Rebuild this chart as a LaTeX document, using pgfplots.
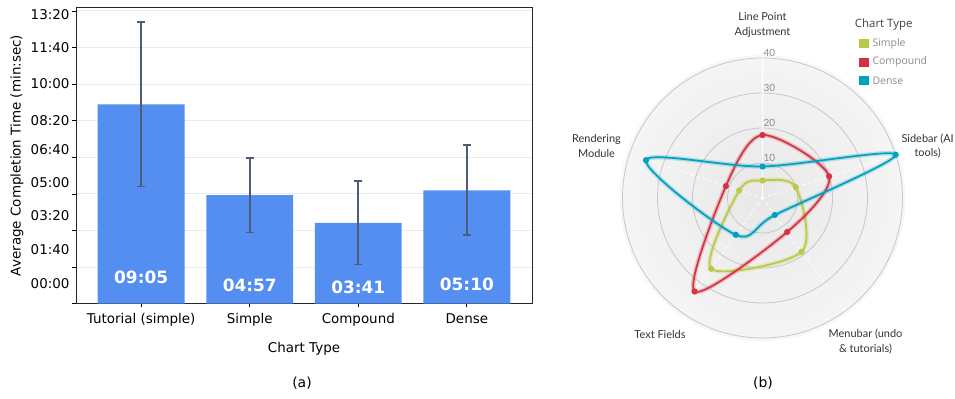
\documentclass[border=0pt]{standalone}
\usepackage{fontspec}
\setmainfont{DejaVu Sans}
\newfontfamily\lato{Lato}
\newfontfamily\osans{Open Sans}
\usepackage{pgfplots}
\pgfplotsset{compat=1.18}
\usepgfplotslibrary{polar}
\definecolor{barblue}{RGB}{84,142,241}
\definecolor{errc}{RGB}{77,92,122}
\definecolor{csimple}{RGB}{188,200,70}
\definecolor{ccompound}{RGB}{214,50,66}
\definecolor{cdense}{RGB}{0,160,192}
\begin{document}
\begin{tikzpicture}
\useasboundingbox (0,0) rectangle (955bp,-399bp);
% ---------------- (a) bar chart ----------------
\begin{axis}[
  at={(76bp,-303.7bp)}, anchor=south west, scale only axis,
  width=456bp, height=296.4bp,
  xmin=-0.6, xmax=3.6, ymin=0, ymax=810,
  xtick={0,1,2,3}, xticklabels={Tutorial (simple),Simple,Compound,Dense},
  ytick={0,100,...,800}, yticklabels={},
  extra y ticks={55.8,148.7,239.7,330.7,421,500,600.5,700.8,791},
  extra y tick labels={00:00,01:40,03:20,05:00,06:40,08:20,10:00,11:40,13:20},
  extra y tick style={major tick length=0pt, grid=none},
  tick align=outside, tick pos=left, major tick length=3.5bp,
  tick style={black, line width=0.8bp},
  ymajorgrids, major grid style={black!8, line width=1bp},
  axis line style={black!85, line width=0.9bp},
  ticklabel style={font=\fontsize{13.5}{16}\selectfont},
  yticklabel style={xshift=-3bp},
  xticklabel style={yshift=-3bp},
  xlabel={Chart Type},
  xlabel style={at={(axis description cs:0.5,-0.1528)}, anchor=center, font=\fontsize{13.5}{16}\selectfont},
  ylabel={Average Completion Time (min:sec)},
  ylabel style={at={(axis description cs:-0.1294,0.5)}, anchor=center, font=\fontsize{13.5}{16}\selectfont},
  clip=false,
]
\addplot[ybar, bar width=0.8, fill=barblue, draw=none,
  error bars/.cd, y dir=both, y explicit,
  error bar style={errc, line width=1.6bp},
  error mark options={errc, rotate=90, mark size=3.8bp, line width=1.6bp}]
  coordinates {(0,545) +- (0,225) (1,297) +- (0,102) (2,221) +- (0,114) (3,310) +- (0,123)};
\node[text=white, font=\bfseries\fontsize{17}{20}\selectfont] at (axis cs:0,73) {09:05};
\node[text=white, font=\bfseries\fontsize{17}{20}\selectfont] at (axis cs:1,49) {04:57};
\node[text=white, font=\bfseries\fontsize{17}{20}\selectfont] at (axis cs:2,45) {03:41};
\node[text=white, font=\bfseries\fontsize{17}{20}\selectfont] at (axis cs:3,52) {05:10};
\end{axis}
\node[font=\fontsize{14}{16}\selectfont] at (302bp,-383bp) {(a)};
\node[font=\fontsize{14}{16}\selectfont] at (763bp,-383bp) {(b)};
% ---------------- (b) radar chart ----------------
\fill[black!3] (762.5bp,-198bp) circle (143bp);
\shade[inner color=black!9, outer color=black!4] (762.5bp,-198bp) circle (140bp);
\begin{polaraxis}[
  at={(762.5bp,-198bp)}, anchor=origin, scale only axis,
  width=280bp, height=280bp,
  xmin=0, xmax=360, ymin=0, ymax=40,
  xtick={18,90,162,234,306}, ytick={10,20,30,40},
  xticklabels={}, yticklabels={},
  xmajorgrids, ymajorgrids,
  x grid style={white, dashed, line width=0.8bp},
  y grid style={black!22, line width=0.8bp},
  axis line style={draw=none},
  major tick length=0pt, clip=false,
]
\draw[white, line width=1bp] (axis cs:0,0) -- (axis cs:90,40);
\node[anchor=south west, inner sep=1bp, text=black!45, font=\lato\fontsize{10}{12}\selectfont] at (axis cs:90,10) {10};
\node[anchor=south west, inner sep=1bp, text=black!45, font=\lato\fontsize{10}{12}\selectfont] at (axis cs:90,20) {20};
\node[anchor=south west, inner sep=1bp, text=black!45, font=\lato\fontsize{10}{12}\selectfont] at (axis cs:90,30) {30};
\node[anchor=south west, inner sep=1bp, text=black!45, font=\lato\fontsize{10}{12}\selectfont] at (axis cs:90,40) {40};
\addplot[csimple, opacity=0.25, line width=4.5bp, smooth cycle, no marks] coordinates {(90,5) (18,10) (306,19) (234,25) (162,7)};
\addplot[csimple, line width=1.7bp, smooth cycle, mark=*, mark size=2.2bp] coordinates {(90,5) (18,10) (306,19) (234,25) (162,7)};
\addplot[ccompound, opacity=0.25, line width=4.5bp, smooth cycle, no marks] coordinates {(90,18) (18,20) (306,12) (234,33) (162,11)};
\addplot[ccompound, line width=1.7bp, smooth cycle, mark=*, mark size=2.2bp] coordinates {(90,18) (18,20) (306,12) (234,33) (162,11)};
\addplot[cdense, opacity=0.25, line width=4.5bp, smooth cycle, no marks] coordinates {(90,9) (18,40) (306,6) (234,13) (162,35)};
\addplot[cdense, line width=1.7bp, smooth cycle, mark=*, mark size=2.2bp] coordinates {(90,9) (18,40) (306,6) (234,13) (162,35)};
\end{polaraxis}
\begin{scope}[every node/.style={align=center, text=black!80, font=\lato\fontsize{11}{14.6}\selectfont}]
\node at (762.5bp,-25bp) {Line Point\\Adjustment};
\node[anchor=east, inner xsep=1bp] at (955bp,-146bp) {Sidebar (AI\\tools)};
\node at (596.5bp,-146bp) {Rendering\\Module};
\node at (660bp,-334.3bp) {Text Fields};
\node at (865.5bp,-341.8bp) {Menubar (undo\\\& tutorials)};
\end{scope}
% legend
\node[anchor=west, inner sep=0pt, text=black!75, font=\osans\fontsize{11.5}{14}\selectfont] at (854.7bp,-25bp) {Chart Type};
\fill[csimple] (859.3bp,-39.3bp) rectangle (868.8bp,-48.3bp);
\fill[ccompound] (859.3bp,-57.7bp) rectangle (868.8bp,-66.7bp);
\fill[cdense] (859.3bp,-76bp) rectangle (868.8bp,-85bp);
\node[anchor=west, inner sep=0pt, text=black!45, font=\osans\fontsize{10.5}{12}\selectfont] at (872.3bp,-43.5bp) {Simple};
\node[anchor=west, inner sep=0pt, text=black!45, font=\osans\fontsize{10.5}{12}\selectfont] at (872.3bp,-62bp) {Compound};
\node[anchor=west, inner sep=0pt, text=black!45, font=\osans\fontsize{10.5}{12}\selectfont] at (872.3bp,-80.5bp) {Dense};
\end{tikzpicture}
\end{document}
